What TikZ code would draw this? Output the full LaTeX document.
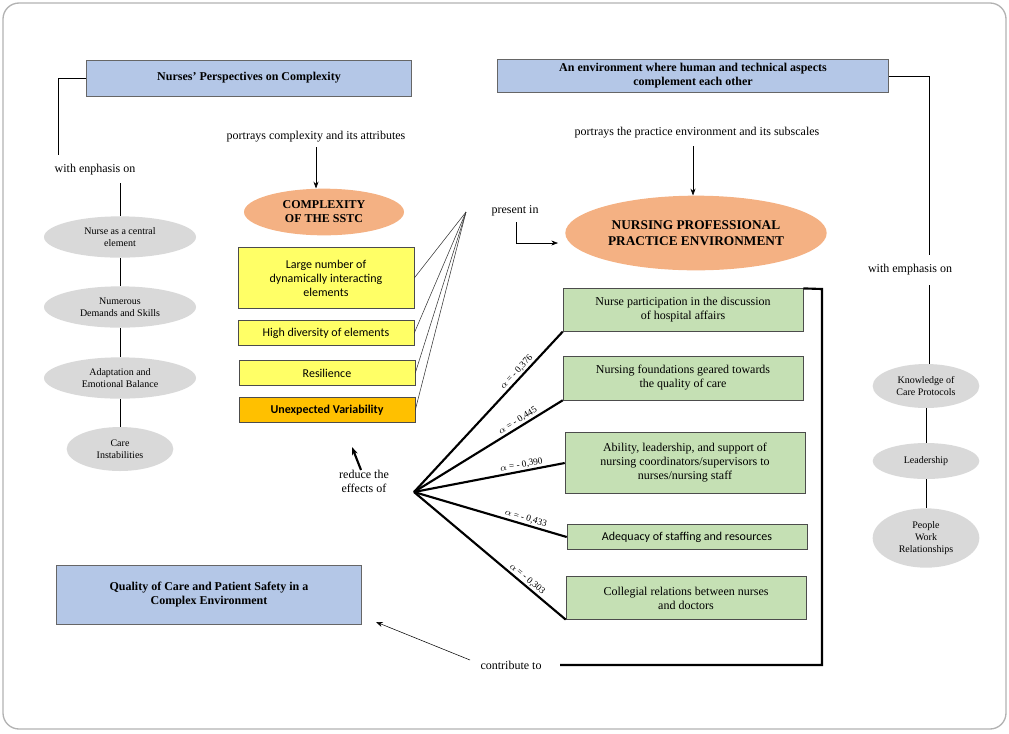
\documentclass[tikz,border=0pt]{standalone}
\usepackage{fontspec}
\setmainfont{Liberation Serif}
\newfontfamily\sansf{Carlito}
\usetikzlibrary{arrows.meta,shapes.geometric}
\definecolor{bluebox}{HTML}{B4C7E7}
\definecolor{orng}{HTML}{F4B183}
\definecolor{grayel}{HTML}{D9D9D9}
\definecolor{greenbox}{HTML}{C5E0B4}
\definecolor{yel}{HTML}{FFFF66}
\definecolor{gold}{HTML}{FFC000}
\begin{document}
\begin{tikzpicture}[x=0.75pt,y=-0.75pt,font=\fontsize{9}{10.5}\selectfont,
  blue/.style={draw=gray!80!black,fill=bluebox,font=\fontsize{9}{10.5}\selectfont\bfseries,align=center,inner sep=2pt},
  gel/.style={ellipse,fill=grayel,draw=none,align=center,font=\fontsize{7.5}{9}\selectfont,minimum width=114pt,minimum height=31pt},
  gel2/.style={gel,minimum width=80pt,minimum height=33pt},
  oel/.style={ellipse,fill=orng,draw=none,align=center,font=\fontsize{9}{10.5}\selectfont\bfseries},
  ybox/.style={draw=black!70,fill=yel,align=center,minimum width=132pt,font=\sansf\fontsize{9}{10.5}\selectfont,inner sep=1pt},
  gbox/.style={draw=black!70,fill=greenbox,align=center,minimum width=180pt,inner sep=2pt},
  lbl/.style={align=center},
  alab/.style={font=\fontsize{7}{8}\selectfont,above,sloped,pos=0.72,inner sep=1pt},
  thick line/.style={line width=1.6pt},
  arr/.style={-{Stealth[length=5pt]}}]
\useasboundingbox (0,0) rectangle (1009,733);
\draw[gray!60,line width=1pt,rounded corners=12pt] (3,3) rectangle (1006,729);
% left top
\node[blue,minimum width=244pt,minimum height=27pt] (npc) at (249,78) {Nurses' Perspectives on Complexity};
\node[lbl] (we1) at (95,170) {with enphasis on};
\coordinate (c1) at (58,78);
\draw (npc.west) -- (c1) -- (58,155);
\node[gel] (e1) at (120,237) {Nurse as a central\\element};
\node[gel] (e2) at (120,307) {Numerous\\Demands and Skills};
\node[gel] (e3) at (120,378) {Adaptation and\\Emotional Balance};
\node[gel2] (e4) at (120,449) {Care\\Instabilities};
\draw (120,183) -- (e1.north);
\draw (e1) -- (e2); \draw (e2) -- (e3); \draw (e3) -- (e4);
\node[lbl] (pc) at (316,137) {portrays complexity and its attributes};
\node[oel,minimum width=120pt,minimum height=35pt] (cx) at (324,212) {COMPLEXITY\\OF THE SSTC};
\draw[arr] (pc.south) -- (cx.north -| pc.south);
\node[ybox,minimum height=46pt] (y1) at (326,278) {Large number of\\dynamically interacting\\elements};
\node[ybox,minimum height=19pt] (y2) at (326,333) {High diversity of elements};
\node[ybox,minimum height=19pt] (y3) at (327,373) {Resilience};
\node[ybox,fill=gold,minimum height=19pt,font=\sansf\fontsize{9}{10.5}\selectfont\bfseries] (y4) at (327,410) {Unexpected Variability};
\coordinate (cv) at (466,212);
\foreach \b in {y1,y2,y3,y4} \draw[black!80] (cv) -- (\b.east);
% right top
\node[blue,minimum width=293pt,minimum height=25pt] (env) at (693,76) {An environment where human and technical aspects\\complement each other};
\node[lbl] (pe) at (697,133) {portrays the practice environment and its subscales};
\node[oel,minimum width=174pt,minimum height=56pt,font=\fontsize{10}{12}\selectfont\bfseries] (npe) at (696,233) {NURSING PROFESSIONAL\\PRACTICE ENVIRONMENT};
\draw[arr] (693,146) -- (npe.north -| 693,146);
\node[lbl] (pin) at (515,211) {present in};
\draw[arr] (516,222) -- (516,243) -- (558,243);
\node[lbl] (we2) at (910,270) {with emphasis on};
\draw (env.east) -- (929,76) -- (929,255);
\node[gel2] (k1) at (926,386) {Knowledge of\\Care Protocols};
\node[gel2,minimum height=27pt] (k2) at (926,461) {Leadership};
\node[gel2,minimum height=42pt] (k3) at (926,538) {People\\Work\\Relationships};
\draw (929,285) -- (k1.north -| 929,285);
\draw (k1) -- (k2); \draw (k2) -- (k3);
% green boxes
\node[gbox,minimum height=32pt] (g1) at (683,310) {Nurse participation in the discussion\\of hospital affairs};
\node[gbox,minimum height=33pt] (g2) at (683,378) {Nursing foundations geared towards\\the quality of care};
\node[gbox,minimum height=46pt] (g3) at (685,463) {Ability, leadership, and support of\\nursing coordinators/supervisors to\\nurses/nursing staff};
\node[gbox,minimum height=19pt,font=\sansf\fontsize{9}{10.5}\selectfont] (g4) at (687,537) {Adequacy of staffing and resources};
\node[gbox,minimum height=32pt] (g5) at (686,598) {Collegial relations between nurses\\and doctors};
\coordinate (hub) at (414,492);
\draw[thick line] (hub) -- node[alab] {$\alpha$ = - 0,376} (g1.south west);
\draw[thick line] (hub) -- node[alab] {$\alpha$ = - 0,445} (g2.south west);
\draw[thick line] (hub) -- node[alab] {$\alpha$ = - 0,390} (g3.west);
\draw[thick line] (hub) -- node[alab] {$\alpha$ = - 0,433} (g4.west);
\draw[thick line] (hub) -- node[alab] {$\alpha$ = - 0,303} (g5.south west);
\node[lbl] (red) at (364,481) {reduce the\\effects of};
\draw[line width=1.6pt,-{Stealth[length=6pt]}] (361,470) -- (352,447);
\node[lbl] (ct) at (511,665) {contribute to};
\draw[thick line] (g1.north east) -- (822,289) -- (822,665) -- (560,665);
\node[blue,minimum width=229pt,minimum height=44pt] (q) at (209,595) {Quality of Care and Patient Safety in a\\Complex Environment};
\draw[arr] (470,660) -- (376,622);
\end{tikzpicture}
\end{document}
